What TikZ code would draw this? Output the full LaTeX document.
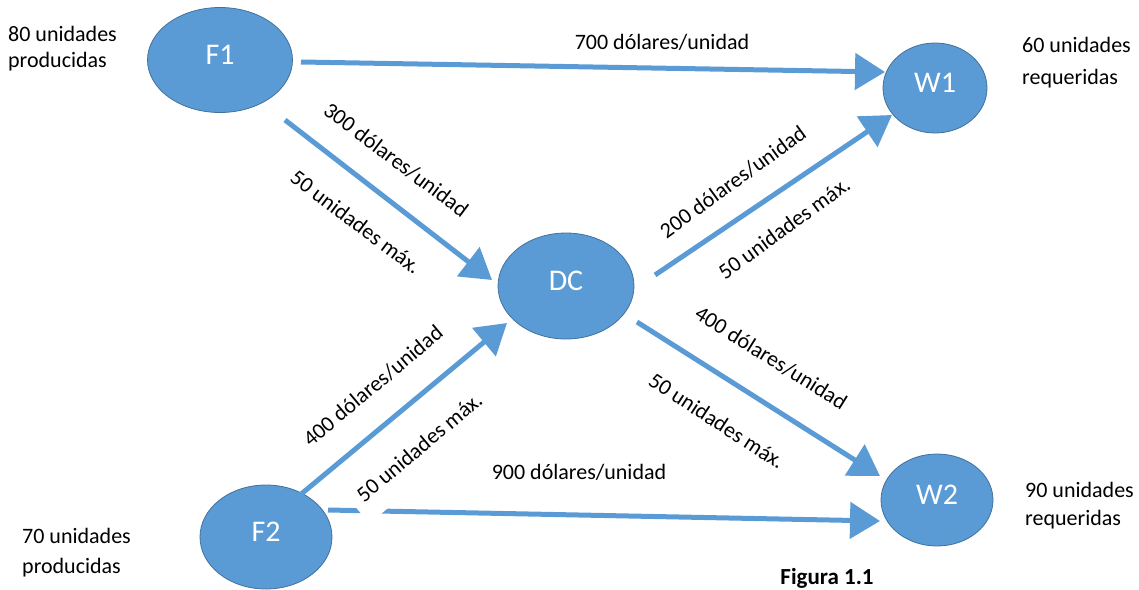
\documentclass[tikz,border=0pt]{standalone}
\usepackage{fontspec}
\setmainfont{Carlito}
\usetikzlibrary{arrows.meta,calc,shapes.geometric}
\definecolor{nodeblue}{RGB}{91,155,213}
\definecolor{edgeblue}{RGB}{65,113,156}
\begin{document}
\begin{tikzpicture}[x=1pt,y=-1pt,
  site/.style={ellipse, fill=nodeblue, draw=edgeblue, line width=0.8pt, text=white,
    font=\fontsize{30}{34}\selectfont, inner sep=0pt, text height=21pt, text depth=12pt},
  flow/.style={draw=nodeblue, line width=5pt, -{Triangle[length=30pt,width=36pt]}},
  lbl/.style={font=\fontsize{22}{26}\selectfont, text=black, inner sep=1pt},
  info/.style={font=\fontsize{22}{26}\selectfont, align=left, anchor=north west, inner sep=0pt}]
\useasboundingbox (0,0) rectangle (1139,589);

% nodes
\node[site, minimum width=145pt, minimum height=105pt] (F1) at (220,60) {F1};
\node[site, minimum width=104pt, minimum height=90pt] (W1) at (935,88) {W1};
\node[site, minimum width=136pt, minimum height=106pt] (DC) at (566,286) {DC};
\node[site, minimum width=132pt, minimum height=104pt] (F2) at (266,537) {F2};
\node[site, minimum width=112pt, minimum height=92pt] (W2) at (937,500) {W2};

% connectors
\draw[flow] ($(F1)+(81,2)$) -- ($(W1)+(-50,-16)$);
\draw[flow] ($(F1)+(65,60)$) -- ($(DC)+(-74,-6)$);
\draw[flow] ($(DC)+(89,-11)$) -- ($(W1)+(-43,27)$);
\draw[flow] ($(DC)+(71,36)$) -- ($(W2)+(-57,-24)$);
\draw[flow] ($(F2)+(34,-42)$) -- ($(DC)+(-59,37)$);
\draw[flow] ($(F2)+(62,-27)$) -- ($(W2)+(-57,21)$);

% edge labels
\node[lbl] (l700) at (662,42) {700 dólares/unidad};
\node[lbl, rotate=-37] (l300) at (396,160) {300 dólares/unidad};
\node[lbl, rotate=-37] (l50a) at (356,222) {50 unidades máx.};
\node[lbl, rotate=36] (l200) at (733,182) {200 dólares/unidad};
\node[lbl, rotate=36] (l50b) at (784,228) {50 unidades máx.};
\node[lbl, rotate=-32] (l400a) at (771,358) {400 dólares/unidad};
\node[lbl, rotate=-33] (l50c) at (717,421) {50 unidades máx.};
\node[lbl, rotate=40] (l400b) at (373,386) {400 dólares/unidad};
\node[lbl, rotate=40, fill=white, inner xsep=9pt, inner ysep=19pt, anchor=base west] (l50d) at (357,509) {50 unidades máx.};
\node[lbl] (l900) at (579,472) {900 dólares/unidad};

% supply / demand texts
\node[info] (sF1) at (8,26) {80 unidades\\producidas};
\node[info, font=\fontsize{22}{32}\selectfont] (sW1) at (1022,37) {60 unidades\\requeridas};
\node[info, font=\fontsize{22}{30}\selectfont] (sF2) at (22,528) {70 unidades\\producidas};
\node[info, font=\fontsize{22}{28}\selectfont] (sW2) at (1025,482) {90 unidades\\requeridas};

\node[font=\bfseries\fontsize{23}{26}\selectfont] (fig) at (827,578) {Figura 1.1};
\end{tikzpicture}
\end{document}
